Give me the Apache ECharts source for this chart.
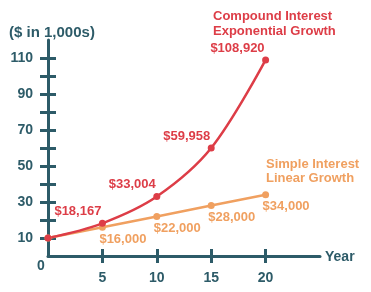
<!DOCTYPE html>
<html>
<head>
<meta charset="utf-8">
<script src="https://cdn.jsdelivr.net/npm/echarts@6/dist/echarts.min.js"></script>
<style>html,body{margin:0;padding:0;background:#fff;}#c{width:371px;height:292px;}</style>
</head>
<body>
<div id="c"></div>
<script>
var years = [0, 5, 10, 15, 20];
var compound = [10, 18.167, 33.004, 59.958, 108.92];
var simple = [10, 16, 22, 28, 34];
var compoundLabels = ['', '$18,167', '$33,004', '$59,958', '$108,920'];
var simpleLabels = ['', '$16,000', '$22,000', '$28,000', '$34,000'];
var xTickLabels = [5, 10, 15, 20];
var yTickValues = [10, 20, 30, 40, 50, 60, 70, 80, 90, 100, 110];
var yTickLabels = [10, 30, 50, 70, 90, 110];
var originLabel = '0';
var yAxisTitle = '($ in 1,000s)';
var xAxisTitle = 'Year';
var compoundTitle = ['Compound Interest', 'Exponential Growth'];
var simpleTitle = ['Simple Interest', 'Linear Growth'];

var TEAL = '#2d5b68', RED = '#dd3d47', ORANGE = '#f0a060';
var FONT = '"Liberation Sans", Arial, sans-serif';

var chart = echarts.init(document.getElementById('c'), null, {renderer: 'canvas'});

function mkData(vals, labels) {
  return vals.map(function (v, i) { return {value: [years[i], v], lbl: labels[i]}; });
}

var xBase = {type: 'value', min: 0, max: 25, position: 'bottom', splitLine: {show: false}};
var yBase = {type: 'value', min: 0, max: 120, position: 'left', splitLine: {show: false}};

chart.setOption({
  animation: false,
  grid: {left: 48, right: 51, top: 40, bottom: 36, containLabel: false},
  xAxis: [
    Object.assign({}, xBase, {
      axisLine: {show: true, lineStyle: {color: TEAL, width: 3}},
      axisTick: {show: true, inside: false, length: 7, customValues: xTickLabels, lineStyle: {color: TEAL, width: 3}},
      axisLabel: {show: true, customValues: xTickLabels, margin: 15, color: TEAL, fontFamily: FONT, fontWeight: 'bold', fontSize: 14}
    }),
    Object.assign({}, xBase, {
      axisLine: {show: false},
      axisTick: {show: true, inside: true, length: 7, customValues: xTickLabels, lineStyle: {color: TEAL, width: 3}},
      axisLabel: {show: false}
    })
  ],
  yAxis: [
    Object.assign({}, yBase, {
      axisLine: {show: true, lineStyle: {color: TEAL, width: 3}},
      axisTick: {show: true, inside: false, length: 8, customValues: yTickValues, lineStyle: {color: TEAL, width: 3}},
      axisLabel: {show: true, customValues: yTickLabels, margin: 15, color: TEAL, fontFamily: FONT, fontWeight: 'bold', fontSize: 14}
    }),
    Object.assign({}, yBase, {
      axisLine: {show: false},
      axisTick: {show: true, inside: true, length: 8, customValues: yTickValues, lineStyle: {color: TEAL, width: 3}},
      axisLabel: {show: false}
    })
  ],
  series: [
    {
      type: 'line', name: 'Simple', data: mkData(simple, simpleLabels),
      xAxisIndex: 0, yAxisIndex: 0,
      lineStyle: {color: ORANGE, width: 2.5}, itemStyle: {color: ORANGE},
      symbol: 'circle', symbolSize: 7, showAllSymbol: true,
      label: {show: true, position: 'bottom', align: 'left', offset: [-3, -3],
        formatter: function (p) { return p.data.lbl; },
        color: ORANGE, fontFamily: FONT, fontWeight: 'bold', fontSize: 13}
    },
    {
      type: 'line', name: 'Compound', data: mkData(compound, compoundLabels), smooth: 0.35,
      xAxisIndex: 0, yAxisIndex: 0,
      lineStyle: {color: RED, width: 2.5}, itemStyle: {color: RED},
      symbol: 'circle', symbolSize: 7, showAllSymbol: true,
      label: {show: true, position: 'top', align: 'right', offset: [-1, 3],
        formatter: function (p) { return p.data.lbl; },
        color: RED, fontFamily: FONT, fontWeight: 'bold', fontSize: 13}
    }
  ],
  graphic: [
    {type: 'text', left: 9, top: 25, style: {text: yAxisTitle, fill: TEAL, font: 'bold 15px ' + FONT}},
    {type: 'text', left: 37, top: 259, style: {text: originLabel, fill: TEAL, font: 'bold 14px ' + FONT}},
    {type: 'text', left: 325, top: 250, style: {text: xAxisTitle, fill: TEAL, font: 'bold 14px ' + FONT}},
    {type: 'text', left: 213, top: 9, style: {text: compoundTitle.join('\n'), fill: RED, font: 'bold 13px ' + FONT, lineHeight: 15}},
    {type: 'text', left: 266, top: 157, style: {text: simpleTitle.join('\n'), fill: ORANGE, font: 'bold 13px ' + FONT, lineHeight: 14}}
  ]
});
</script>
</body>
</html>
